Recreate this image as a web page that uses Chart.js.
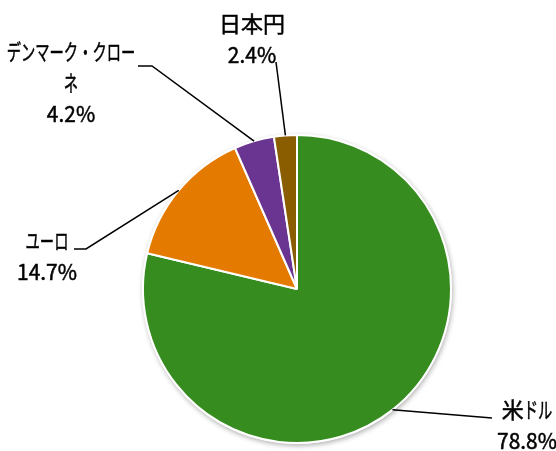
<!DOCTYPE html>
<html>
<head>
<meta charset="utf-8">
<script src="https://cdn.jsdelivr.net/npm/chart.js@4/dist/chart.umd.min.js"></script>
<style>
html,body{margin:0;padding:0;background:#fff;}
canvas{display:block;}
</style>
</head>
<body>
<canvas id="c" width="556" height="451"></canvas>
<script>
const categories = ['米ドル', 'ユーロ', 'デンマーク・クローネ', '日本円'];
const shares = [78.8, 14.7, 4.2, 2.4];
const sliceColors = ['#368c1e', '#e47b00', '#6a3591', '#8a5e00'];
const pctLabels = shares.map(v => v.toFixed(1) + '%');

// label layout (positions only)
const labelLayout = [
  {cx: 527, y: 410, path: [[492, 418]], wrap: 0},
  {cx: 47,  y: 241, path: [[86, 249], [74, 249]], wrap: 0},
  {cx: 71,  y: 52,  path: [[152, 66], [138, 66]], wrap: 9},
  {cx: 252, y: 24,  path: [[276, 62]], wrap: 0}
];

const FONT_PX = 22;
const LINE_H = 31;
function charScale(ch) {
  const c = ch.charCodeAt(0);
  if (c >= 0x30A0 && c <= 0x30FF) return 0.65;
  if (c < 0x2000) return 0.95;
  return 1;
}
function drawLine(ctx, s, cx, y) {
  const parts = [];
  let total = 0;
  for (const ch of s) {
    const w = ctx.measureText(ch).width * charScale(ch);
    parts.push([ch, w]);
    total += w;
  }
  let x = cx - total / 2;
  parts.forEach(([ch, w]) => {
    ctx.fillText(ch, x + w / 2, y, w);
    ctx.strokeText(ch, x + w / 2, y, w);
    x += w;
  });
}

const leaderPlugin = {
  id: 'leaders',
  beforeDatasetsDraw(chart) {
    const arc = chart.getDatasetMeta(0).data[0];
    if (!arc) return;
    const ctx = chart.ctx;
    ctx.save();
    ctx.shadowColor = 'rgba(0,0,0,0.3)';
    ctx.shadowBlur = 5;
    ctx.shadowOffsetX = 1;
    ctx.shadowOffsetY = 2;
    ctx.fillStyle = '#fff';
    ctx.beginPath();
    ctx.arc(arc.x, arc.y, arc.outerRadius + 1, 0, Math.PI * 2);
    ctx.fill();
    ctx.restore();
  },
  afterDatasetsDraw(chart) {
    const ctx = chart.ctx;
    const meta = chart.getDatasetMeta(0);
    ctx.save();
    meta.data.forEach((arc, i) => {
      const lay = labelLayout[i];
      const mid = (arc.startAngle + arc.endAngle) / 2;
      const sx = arc.x + Math.cos(mid) * arc.outerRadius;
      const sy = arc.y + Math.sin(mid) * arc.outerRadius;
      ctx.strokeStyle = '#000';
      ctx.lineWidth = 1.5;
      ctx.beginPath();
      ctx.moveTo(sx, sy);
      lay.path.forEach(p => ctx.lineTo(p[0], p[1]));
      ctx.stroke();

      ctx.font = FONT_PX + 'px "Noto Sans CJK JP", sans-serif';
      ctx.fillStyle = '#000';
      ctx.strokeStyle = '#000';
      ctx.lineWidth = 0.5;
      ctx.textAlign = 'center';
      ctx.textBaseline = 'middle';
      const name = categories[i];
      const lines = [];
      if (lay.wrap && name.length > lay.wrap) {
        for (let k = 0; k < name.length; k += lay.wrap) lines.push(name.slice(k, k + lay.wrap));
      } else lines.push(name);
      lines.push(pctLabels[i]);
      lines.forEach((s, k) => drawLine(ctx, s, lay.cx, lay.y + k * LINE_H));
    });
    ctx.restore();
  }
};

new Chart(document.getElementById('c'), {
  type: 'pie',
  data: {
    labels: categories,
    datasets: [{
      data: shares,
      backgroundColor: sliceColors,
      borderColor: '#ffffff',
      borderWidth: 2
    }]
  },
  options: {
    responsive: false,
    animation: false,
    devicePixelRatio: 1,
    layout: {padding: {left: 142, right: 104, top: 134, bottom: 7}},
    plugins: {legend: {display: false}, tooltip: {enabled: false}}
  },
  plugins: [leaderPlugin]
});
</script>
</body>
</html>
